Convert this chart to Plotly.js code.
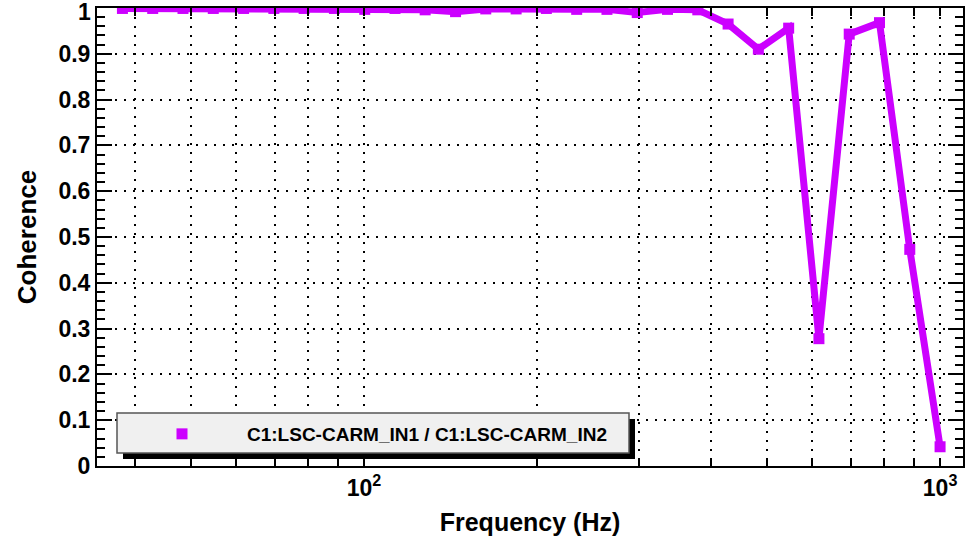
<!DOCTYPE html>
<html>
<head>
<meta charset="utf-8">
<script src="https://cdn.plot.ly/plotly-3.0.1.min.js"></script>
<style>
html,body{margin:0;padding:0;background:#fff;}
#chart{width:970px;height:545px;}
</style>
</head>
<body>
<div id="chart"></div>
<script>
// Frequency (Hz) of each coherence point
const frequency = [38.08, 42.98, 48.51, 54.75, 61.80, 69.75, 78.72, 88.85, 100.3, 113.2,
                   127.7, 144.2, 162.7, 183.7, 207.3, 234.0, 264.1, 298.1, 336.4, 379.7,
                   428.6, 483.7, 546.0, 616.2, 695.5, 785.0, 886.0, 1000];
// Coherence values
const coherence = [0.999, 0.999, 0.999, 0.999, 0.999, 0.999, 0.999, 0.999, 0.997, 0.999,
                   0.996, 0.992, 0.998, 0.998, 0.999, 0.997, 0.997, 0.990, 0.997, 0.996,
                   0.965, 0.910, 0.956, 0.278, 0.943, 0.968, 0.473, 0.042];
const seriesName = "C1:LSC-CARM_IN1 / C1:LSC-CARM_IN2";
const xTickVals = [40, 50, 60, 70, 80, 90, 100, 200, 300, 400, 500, 600, 700, 800, 900, 1000];
const xTickText = ["", "", "", "", "", "", "10<sup>2</sup>", "", "", "", "", "", "", "", "", "10<sup>3</sup>"];
const yTickVals = [0, 0.1, 0.2, 0.3, 0.4, 0.5, 0.6, 0.7, 0.8, 0.9, 1];
// top label "1" is drawn separately, nudged down to stay inside the page
const yTickText = ["0", "0.1", "0.2", "0.3", "0.4", "0.5", "0.6", "0.7", "0.8", "0.9", ""];
const yTopLabel = "1";
const yTopValue = 1;

const color = "#cc00ff";
const fontFam = "Liberation Sans, Arial, Helvetica, sans-serif";

const traces = [
  {x: frequency, y: coherence, type: "scatter", mode: "lines",
   line: {color: color, width: 7}, showlegend: false, hoverinfo: "skip"},
  {x: frequency, y: coherence, type: "scatter", mode: "markers", name: seriesName,
   marker: {color: color, symbol: "square", size: 11}, showlegend: true}
];

const layout = {
  width: 970, height: 545,
  margin: {l: 97, r: 7, t: 8, b: 79},
  paper_bgcolor: "#fff", plot_bgcolor: "#fff",
  font: {family: fontFam, color: "#000", weight: 700},
  xaxis: {
    type: "log", range: [Math.log10(34.4), Math.log10(1096)],
    tickvals: xTickVals, ticktext: xTickText,
    ticks: "inside", ticklen: 8, tickwidth: 2, tickcolor: "#000",
    showline: true, linewidth: 2, linecolor: "#000", mirror: "allticks",
    showgrid: true, gridcolor: "#000", gridwidth: 2, griddash: "2px,7px",
    zeroline: false,
    tickfont: {size: 23, family: fontFam, weight: 700},
    title: {text: "Frequency (Hz)", font: {size: 25, family: fontFam, weight: 700}, standoff: 14}
  },
  yaxis: {
    range: [0, 1], tickmode: "array", tickvals: yTickVals, ticktext: yTickText,
    ticks: "inside", ticklen: 15, tickwidth: 2, tickcolor: "#000",
    minor: {dtick: 0.02, ticks: "inside", ticklen: 8, tickwidth: 2, tickcolor: "#000", showgrid: false},
    showline: true, linewidth: 2, linecolor: "#000", mirror: "allticks",
    showgrid: true, gridcolor: "#000", gridwidth: 2, griddash: "2px,7px",
    zeroline: false,
    tickfont: {size: 23, family: fontFam, weight: 700},
    title: {text: "Coherence", font: {size: 26, family: fontFam, weight: 700}, standoff: 14}
  },
  annotations: [
    {text: yTopLabel, xref: "paper", x: 0, xanchor: "right", xshift: -4,
     yref: "y", y: yTopValue, yanchor: "middle", yshift: -4, showarrow: false,
     font: {size: 23, family: fontFam, weight: 700, color: "#000"}}
  ],
  showlegend: true,
  legend: {
    x: (117 - 97) / 866, y: (466 - 415) / 458, xanchor: "left", yanchor: "top",
    bgcolor: "rgba(0,0,0,0)", borderwidth: 0,
    font: {size: 19, family: fontFam, weight: 700, color: "#000"},
    itemwidth: 120
  },
  shapes: [
    {type: "rect", xref: "paper", yref: "paper", layer: "above",
     x0: (123 - 97) / 866, x1: (635 - 97) / 866, y0: (466 - 459) / 458, y1: (466 - 419) / 458,
     fillcolor: "#000", line: {width: 0}},
    {type: "rect", xref: "paper", yref: "paper", layer: "above",
     x0: (117 - 97) / 866, x1: (629 - 97) / 866, y0: (466 - 453) / 458, y1: (466 - 413) / 458,
     fillcolor: "#f0f0f0", line: {color: "#555", width: 1.5}}
  ]
};

Plotly.newPlot("chart", traces, layout, {displayModeBar: false, staticPlot: true});
</script>
</body>
</html>
